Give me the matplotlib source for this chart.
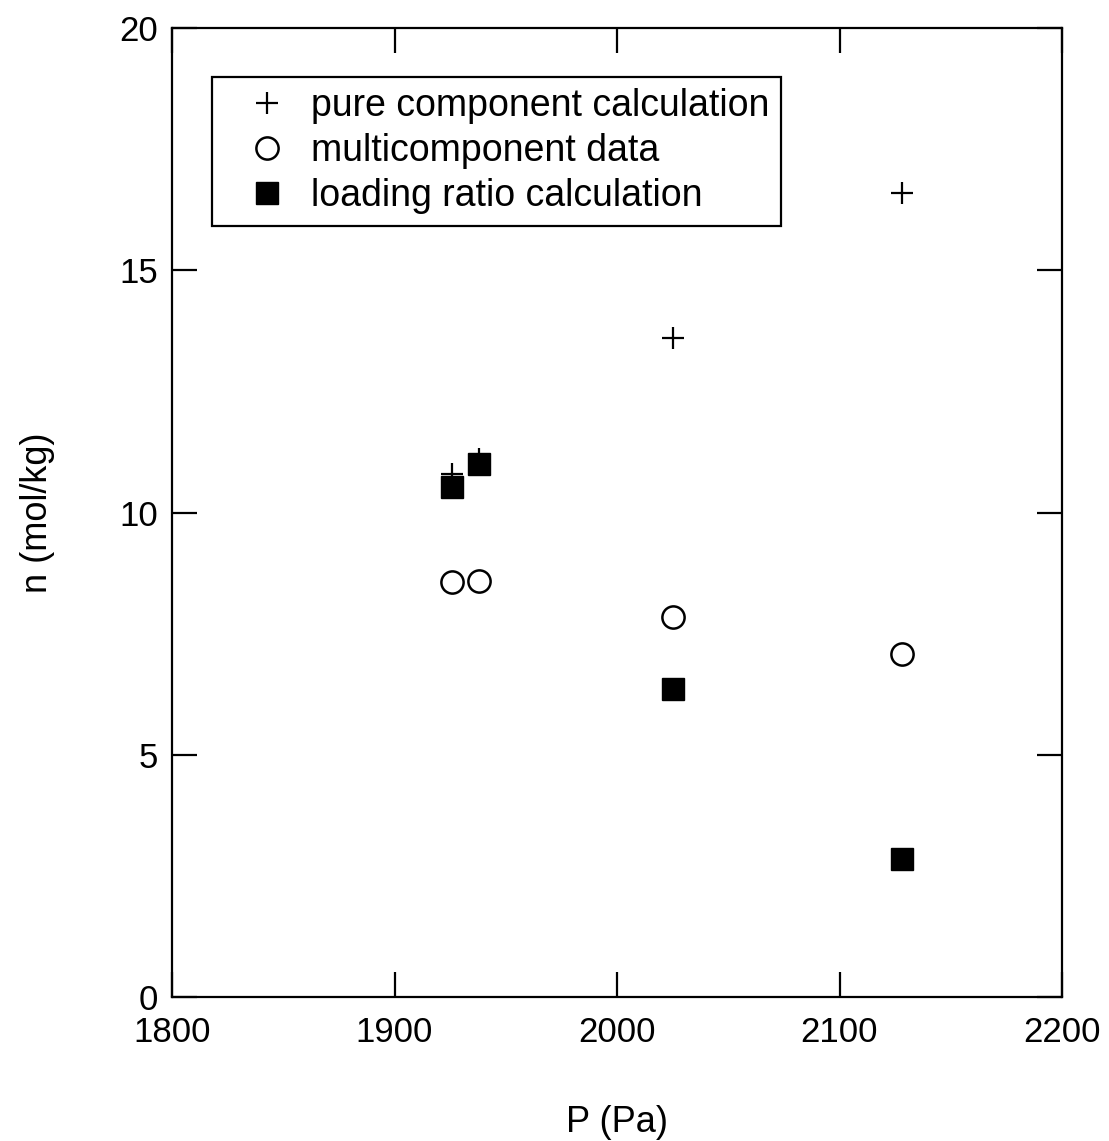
import matplotlib
matplotlib.use("Agg")
import matplotlib.pyplot as plt

plt.rcParams['font.family'] = ['Liberation Sans', 'DejaVu Sans']

pressure = [1926, 1938, 2025, 2128]
pure_calc = [10.8, 11.1, 13.6, 16.6]
multi_data = [8.57, 8.58, 7.84, 7.08]
loading_calc = [10.52, 11.0, 6.36, 2.85]

x_ticks = [1800, 1900, 2000, 2100, 2200]
y_ticks = [0, 5, 10, 15, 20]

fig = plt.figure(figsize=(11.09, 11.41), dpi=100)
ax = fig.add_axes([172/1109, 1-997/1141, 890/1109, 969/1141])

ax.plot(pressure, pure_calc, linestyle='none', marker='+', markersize=16,
        markeredgewidth=1.6, color='black', label='pure component calculation')
ax.plot(pressure, multi_data, linestyle='none', marker='o', markersize=16,
        markerfacecolor='white', markeredgewidth=1.8, color='black',
        label='multicomponent data')
ax.plot(pressure, loading_calc, linestyle='none', marker='s', markersize=15.5,
        color='black', label='loading ratio calculation')

ax.set_xlim(1800, 2200)
ax.set_ylim(0, 20)
ax.set_xticks(x_ticks)
ax.set_yticks(y_ticks)
ax.tick_params(direction='in', length=18, width=1.6, labelsize=25,
               top=True, right=True)
ax.tick_params(axis='x', pad=14)
ax.tick_params(axis='y', pad=10)
for s in ax.spines.values():
    s.set_linewidth(1.6)

ax.set_xlabel('P (Pa)', fontsize=26, labelpad=40)
ax.set_ylabel('n (mol/kg)', fontsize=26, labelpad=46)

leg = ax.legend(loc='upper left', bbox_to_anchor=(40/890, (997-77)/969),
                borderaxespad=0, fontsize=27, frameon=True, fancybox=False,
                edgecolor='black', framealpha=1, borderpad=0.3,
                handlelength=2.35, handletextpad=0.0, labelspacing=0.24,
                numpoints=1)
leg.get_frame().set_linewidth(1.6)

fig.savefig('out.png', dpi=100)
